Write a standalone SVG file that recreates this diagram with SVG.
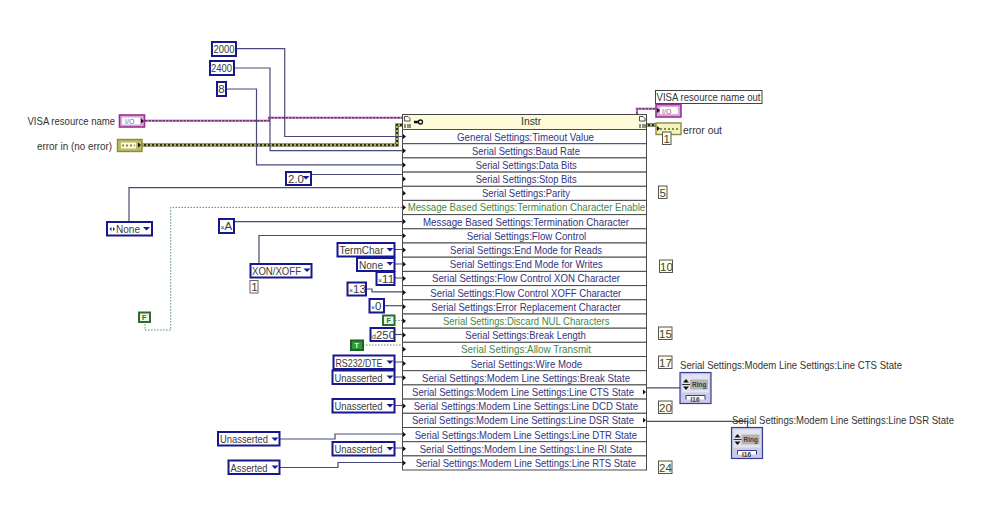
<svg xmlns="http://www.w3.org/2000/svg" width="999" height="528" viewBox="0 0 999 528">
<style>
text{font-family:"Liberation Sans","Noto Sans",sans-serif;font-size:11.5px;fill:#3c3c3c}
.lbl{font-size:10.400px;fill:#333}
.row{font-size:10.400px;fill:#34347f}
.grn{font-size:10.400px;fill:#3f8a45}
.idxt{font-size:11.500px;fill:#444}
.sm{font-size:7px}
.cell{fill:#fff;stroke:#4a4a4a;stroke-width:1}
.const{fill:#fff;stroke:#17178f;stroke-width:2}
.idx{fill:#ffffe6;stroke:#555;stroke-width:1}
.w{fill:none;stroke:#4a4a78;stroke-width:1.2}
.g{fill:none;stroke:#5d8f62;stroke-width:1;stroke-dasharray:1.5 1.5}
.pkb{fill:none;stroke:#c8a0c8;stroke-width:2.400}
.pk{fill:none;stroke:#7a2a7a;stroke-width:1.400;stroke-dasharray:2.500 1}
.ybg{fill:none;stroke:#2e2e18;stroke-width:3.200}
.yf{fill:none;stroke:#d8d860;stroke-width:1.600;stroke-dasharray:2 2}
.tri{fill:#111}
.arr{fill:#17178f}
.ring{fill:#c8cce8;stroke:#3a3a90;stroke-width:1.200}
</style>
<defs>
<path id="pin" class="tri" d="M0-2.500 3 0 0 2.500Z"/>
<path id="dd" class="arr" d="M-3.500-1.600H3.500L0 2Z"/>
<g id="ringicon">
<rect class="ring" x="0" y="0" width="31" height="31"/>
<rect x="2" y="2" width="27" height="18" fill="#e4e4ee"/>
<rect x="10" y="7" width="18" height="10" fill="#b4b4b4"/>
<path d="M3 10 6 6.500 9 10ZM3 14 6 17.500 9 14Z" fill="#111"/>
<path d="M2 12H10" stroke="#333" stroke-width="1"/>
<path d="M6 27V23H25V27" fill="#fff" stroke="#3a3a90" stroke-width="1"/>
<text x="10.500" y="29" style="font-size:6.500px;font-weight:700" fill="#333">I16</text>
<text x="12" y="14.500" style="font-size:6.500px;font-weight:700">Ring</text>
</g>
</defs>
<rect width="999" height="528" fill="#fff"/>

<g id="connectors">
<path class="pkb" d="M145 120.800H269V117.700H402"/>
<path class="pk" d="M145 120.800H269V117.700H402"/>
<path class="pkb" d="M637 114V108.700H655"/>
<path class="pk" d="M637 114V108.700H655"/>
<path class="ybg" d="M142 145H397V125H402"/>
<path class="yf" d="M142 145H397V125H402"/>
<path class="ybg" d="M646 125H656"/>
<path class="yf" d="M646 125H656"/>
<path class="w" d="M236 48.700H284.700V136.500H402"/>
<path class="w" d="M234 68H270V150.700H402"/>
<path class="w" d="M226 89H256.500V164.900H402"/>
<path class="w" d="M311 174.500H402"/>
<path class="w" d="M129 221V187.700H402"/>
<path class="g" d="M402 207.400H170.700V330H145V322"/>
<path class="w" d="M234 221.600H402"/>
<path class="w" d="M259 263V235.500H402"/>
<path class="w" d="M395 249.500H402M395 264H402M395 278H402"/>
<path class="w" d="M366 289H372V291.800H402"/>
<path class="w" d="M384 305.700H402"/>
<path class="g" d="M395 320.500H402"/>
<path class="w" d="M395 334.500H402"/>
<path class="g" d="M363 345H402"/>
<path class="w" d="M395 362H402M395 377H402M395 405.500H402M395 448H402"/>
<path class="w" d="M280 439H335V434H402"/>
<path class="w" d="M280 467.500H338V462.500H402"/>
<path class="w" d="M647 387.800H680"/>
<path class="w" d="M647 421.300H747.500V427"/>
</g>

<g id="node-instr">
<rect x="402.500" y="114.500" width="244" height="15" fill="#fdfbd8" stroke="#444"/>
<path d="M404.500 116.500H408L410 118.500V121H404.500Z" fill="#fff" stroke="#222" stroke-width="0.800"/>
<path d="M405 124V128M408 124V128M410 124V128" stroke="#222" stroke-width="1"/>
<path d="M414 122H419" stroke="#111" stroke-width="2.500"/><circle cx="420.500" cy="122" r="2" fill="#fff" stroke="#111" stroke-width="1.300"/>
<path d="M639.500 116.500H643L645 118.500V121H639.500Z" fill="#fff" stroke="#222" stroke-width="0.800"/>
<path d="M640 124V128M643 124V128M645 124V128" stroke="#222" stroke-width="1"/>
<text x="521" y="125" class="lbl">Instr</text>
<g id="rows">
<rect class="cell" x="402.500" y="129.500" width="244" height="14.200"/>
<rect class="cell" x="402.500" y="143.700" width="244" height="14.200"/>
<rect class="cell" x="402.500" y="157.900" width="244" height="14.200"/>
<rect class="cell" x="402.500" y="172.100" width="244" height="14.200"/>
<rect class="cell" x="402.500" y="186.300" width="244" height="14.100"/>
<rect class="cell" x="402.500" y="200.400" width="244" height="14.200"/>
<rect class="cell" x="402.500" y="214.600" width="244" height="14.200"/>
<rect class="cell" x="402.500" y="228.800" width="244" height="14.200"/>
<rect class="cell" x="402.500" y="243" width="244" height="14.200"/>
<rect class="cell" x="402.500" y="257.200" width="244" height="14.200"/>
<rect class="cell" x="402.500" y="271.400" width="244" height="14.200"/>
<rect class="cell" x="402.500" y="285.600" width="244" height="14.200"/>
<rect class="cell" x="402.500" y="299.800" width="244" height="14.200"/>
<rect class="cell" x="402.500" y="314" width="244" height="14.200"/>
<rect class="cell" x="402.500" y="328.200" width="244" height="14.100"/>
<rect class="cell" x="402.500" y="342.300" width="244" height="14.200"/>
<rect class="cell" x="402.500" y="356.500" width="244" height="14.200"/>
<rect class="cell" x="402.500" y="370.700" width="244" height="14.200"/>
<rect class="cell" x="402.500" y="384.900" width="244" height="14.200"/>
<rect class="cell" x="402.500" y="399.100" width="244" height="14.200"/>
<rect class="cell" x="402.500" y="413.300" width="244" height="14.200"/>
<rect class="cell" x="402.500" y="427.500" width="244" height="14.200"/>
<rect class="cell" x="402.500" y="441.700" width="244" height="14.200"/>
<rect class="cell" x="402.500" y="455.900" width="244" height="14.100"/>
</g>
<g id="row-labels">
<text class="row" x="457" y="140.500" textLength="137" lengthAdjust="spacingAndGlyphs">General Settings:Timeout Value</text>
<text class="row" x="472" y="154.700" textLength="108" lengthAdjust="spacingAndGlyphs">Serial Settings:Baud Rate</text>
<text class="row" x="475.700" y="168.900" textLength="101" lengthAdjust="spacingAndGlyphs">Serial Settings:Data Bits</text>
<text class="row" x="475.700" y="183.100" textLength="101" lengthAdjust="spacingAndGlyphs">Serial Settings:Stop Bits</text>
<text class="row" x="482" y="197.300" textLength="88" lengthAdjust="spacingAndGlyphs">Serial Settings:Parity</text>
<text class="grn" x="407.700" y="211.400" textLength="237.500" lengthAdjust="spacingAndGlyphs">Message Based Settings:Termination Character Enable</text>
<text class="row" x="423" y="225.600" textLength="206" lengthAdjust="spacingAndGlyphs">Message Based Settings:Termination Character</text>
<text class="row" x="466.700" y="239.800" textLength="119.500" lengthAdjust="spacingAndGlyphs">Serial Settings:Flow Control</text>
<text class="row" x="450" y="254" textLength="152" lengthAdjust="spacingAndGlyphs">Serial Settings:End Mode for Reads</text>
<text class="row" x="449.700" y="268.200" textLength="153" lengthAdjust="spacingAndGlyphs">Serial Settings:End Mode for Writes</text>
<text class="row" x="432" y="282.400" textLength="188" lengthAdjust="spacingAndGlyphs">Serial Settings:Flow Control XON Character</text>
<text class="row" x="430.300" y="296.600" textLength="191" lengthAdjust="spacingAndGlyphs">Serial Settings:Flow Control XOFF Character</text>
<text class="row" x="431.300" y="310.800" textLength="189.500" lengthAdjust="spacingAndGlyphs">Serial Settings:Error Replacement Character</text>
<text class="grn" x="443" y="325" textLength="166.500" lengthAdjust="spacingAndGlyphs">Serial Settings:Discard NUL Characters</text>
<text class="row" x="465.300" y="339.200" textLength="120.500" lengthAdjust="spacingAndGlyphs">Serial Settings:Break Length</text>
<text class="grn" x="461" y="353.300" textLength="130" lengthAdjust="spacingAndGlyphs">Serial Settings:Allow Transmit</text>
<text class="row" x="470.700" y="367.500" textLength="111.500" lengthAdjust="spacingAndGlyphs">Serial Settings:Wire Mode</text>
<text class="row" x="422" y="381.700" textLength="208" lengthAdjust="spacingAndGlyphs">Serial Settings:Modem Line Settings:Break State</text>
<text class="row" x="412" y="395.900" textLength="222" lengthAdjust="spacingAndGlyphs">Serial Settings:Modem Line Settings:Line CTS State</text>
<text class="row" x="413.700" y="410.100" textLength="224.300" lengthAdjust="spacingAndGlyphs">Serial Settings:Modem Line Settings:Line DCD State</text>
<text class="row" x="412" y="424.300" textLength="222" lengthAdjust="spacingAndGlyphs">Serial Settings:Modem Line Settings:Line DSR State</text>
<text class="row" x="414.700" y="438.500" textLength="222.300" lengthAdjust="spacingAndGlyphs">Serial Settings:Modem Line Settings:Line DTR State</text>
<text class="row" x="419.700" y="452.700" textLength="212.300" lengthAdjust="spacingAndGlyphs">Serial Settings:Modem Line Settings:Line RI State</text>
<text class="row" x="415.700" y="466.900" textLength="220.300" lengthAdjust="spacingAndGlyphs">Serial Settings:Modem Line Settings:Line RTS State</text>
</g>
<g id="pins">
<use href="#pin" x="403" y="136.500"/><use href="#pin" x="403" y="150.700"/><use href="#pin" x="403" y="164.900"/><use href="#pin" x="403" y="179"/><use href="#pin" x="403" y="193.200"/><use href="#pin" x="403" y="207.400"/><use href="#pin" x="403" y="221.600"/><use href="#pin" x="403" y="235.800"/><use href="#pin" x="403" y="250"/><use href="#pin" x="403" y="264.200"/><use href="#pin" x="403" y="278.400"/><use href="#pin" x="403" y="292.600"/><use href="#pin" x="403" y="306.800"/><use href="#pin" x="403" y="321"/><use href="#pin" x="403" y="335.100"/><use href="#pin" x="403" y="349.300"/><use href="#pin" x="403" y="363.500"/><use href="#pin" x="403" y="377.700"/><use href="#pin" x="403" y="406.100"/><use href="#pin" x="403" y="434.500"/><use href="#pin" x="403" y="448.700"/><use href="#pin" x="403" y="462.900"/>
<use href="#pin" x="643" y="391.900"/><use href="#pin" x="643" y="420.300"/>
</g>
</g>

<g id="visa-in"><text class="lbl" x="27.500" y="125" textLength="87.500" lengthAdjust="spacingAndGlyphs">VISA resource name</text><rect x="119.500" y="115" width="25" height="12" fill="#d9a8dc" stroke="#93358f" stroke-width="1.600"/><rect x="122" y="117.500" width="18" height="7" fill="#fff"/><text x="125" y="124" class="sm" style="fill:#8a5a8a">I/O</text><use href="#pin" x="141" y="121"/></g>
<g id="error-in"><rect x="117.500" y="139.500" width="24.500" height="12" fill="#bcbc68" stroke="#8a8a3a" stroke-width="1.400"/><rect x="121" y="142.500" width="15" height="6" fill="#fbfbe0"/><path d="M122 145.500H135" stroke="#8a8a3a" stroke-width="2" stroke-dasharray="2 2"/><use href="#pin" x="138" y="145"/><text class="lbl" x="37" y="150" textLength="75" lengthAdjust="spacingAndGlyphs">error in (no error)</text></g>

<g id="c2000"><rect class="const" x="212" y="42" width="24" height="14"/><text x="213.500" y="53.200" textLength="21" lengthAdjust="spacingAndGlyphs">2000</text></g>
<g id="c2400"><rect class="const" x="210" y="61" width="24" height="14"/><text x="211" y="72.200" textLength="21" lengthAdjust="spacingAndGlyphs">2400</text></g>
<g id="c8"><rect class="const" x="217" y="82" width="9" height="14"/><text x="218.300" y="93.200">8</text></g>
<g id="c20"><rect class="const" x="286" y="172" width="25" height="13"/><text x="288" y="183">2.0</text><use href="#dd" x="306" y="177.500"/></g>
<g id="cNone1"><rect class="const" x="107" y="222" width="45" height="13.500"/><path d="M109.500 229 111.500 227V231ZM115 229 113 227V231Z" fill="#17178f"/><text x="116" y="233" textLength="24" lengthAdjust="spacingAndGlyphs">None</text><use href="#dd" x="146.500" y="228.500"/></g>
<g id="cF1"><rect x="139" y="312.500" width="11" height="9.500" fill="#e8f4e4" stroke="#2f6b34" stroke-width="2"/><text x="142" y="320" class="sm" style="font-weight:700;fill:#2f6b34">F</text></g>
<g id="cA"><rect class="const" x="219" y="219" width="15" height="14"/><text x="220.500" y="230"><tspan class="sm">×</tspan>A</text></g>
<g id="cXon"><rect class="const" x="250.500" y="264" width="61" height="13.500"/><text x="252" y="275" textLength="49" lengthAdjust="spacingAndGlyphs">XON/XOFF</text><use href="#dd" x="307" y="270"/><rect x="250" y="280.500" width="8" height="12.500" fill="#fff" stroke="#666"/><text x="251.300" y="291" class="idxt">1</text></g>
<g id="cTerm"><rect class="const" x="337.500" y="243" width="57" height="13.500"/><text x="339.500" y="254" textLength="44" lengthAdjust="spacingAndGlyphs">TermChar</text><use href="#dd" x="390" y="249.500"/></g>
<g id="cNone2"><rect class="const" x="357" y="258" width="37.500" height="13"/><text x="359" y="268.500" textLength="24" lengthAdjust="spacingAndGlyphs">None</text><use href="#dd" x="390" y="263.500"/></g>
<g id="cX11"><rect class="const" x="376.500" y="272" width="18" height="13"/><text x="378" y="282.500"><tspan class="sm">×</tspan>11</text></g>
<g id="cX13"><rect class="const" x="347.500" y="282.500" width="18.500" height="13"/><text x="349" y="293"><tspan class="sm">×</tspan>13</text></g>
<g id="cX0"><rect class="const" x="369.500" y="299" width="14.500" height="13.500"/><text x="371" y="309.500"><tspan class="sm">×</tspan>0</text></g>
<g id="cF2"><rect x="383" y="315.500" width="11.500" height="9.500" fill="#e8f4e4" stroke="#2f6b34" stroke-width="2"/><text x="386.500" y="323" class="sm" style="font-weight:700;fill:#2f6b34">F</text></g>
<g id="c250"><rect class="const" x="370.500" y="328" width="24" height="13"/><text x="372" y="338.500"><tspan class="sm">d</tspan>250</text></g>
<g id="cT"><rect x="351" y="340.500" width="12" height="9.500" fill="#2f9a3a" stroke="#1f5f26" stroke-width="2"/><text x="354.500" y="348" class="sm" style="font-weight:700;fill:#e8f4e4">T</text></g>
<g id="cRS"><rect class="const" x="333.500" y="355.500" width="61" height="13.500"/><text x="335.500" y="366.500" textLength="47" lengthAdjust="spacingAndGlyphs">RS232/DTE</text><use href="#dd" x="390" y="362"/></g>
<g id="cU1"><rect class="const" x="332.500" y="370.500" width="62" height="13.500"/><text x="334.500" y="381.500" textLength="48" lengthAdjust="spacingAndGlyphs">Unasserted</text><use href="#dd" x="390" y="377"/></g>
<g id="cU2"><rect class="const" x="332.500" y="399" width="62" height="13.500"/><text x="334.500" y="410" textLength="48" lengthAdjust="spacingAndGlyphs">Unasserted</text><use href="#dd" x="390" y="405.500"/></g>
<g id="cU3"><rect class="const" x="218" y="432" width="61.500" height="13.500"/><text x="220" y="443" textLength="48" lengthAdjust="spacingAndGlyphs">Unasserted</text><use href="#dd" x="275" y="439"/></g>
<g id="cU4"><rect class="const" x="332.500" y="442" width="62" height="13.500"/><text x="334.500" y="453" textLength="48" lengthAdjust="spacingAndGlyphs">Unasserted</text><use href="#dd" x="390" y="448.500"/></g>
<g id="cAs"><rect class="const" x="228.500" y="460.500" width="51" height="13.500"/><text x="230.500" y="471.500" textLength="37" lengthAdjust="spacingAndGlyphs">Asserted</text><use href="#dd" x="275" y="467"/></g>

<g id="visa-out"><rect x="655.500" y="90.500" width="106.500" height="13" fill="#fff" stroke="#444"/><text x="656.500" y="100.700" class="lbl" textLength="104" lengthAdjust="spacingAndGlyphs">VISA resource name out</text><rect x="656" y="104.500" width="25" height="12.500" fill="#d9a8dc" stroke="#93358f" stroke-width="1.600"/><rect x="660" y="107" width="18" height="7" fill="#fff"/><text x="662" y="113.500" class="sm" style="fill:#8a5a8a">I/O</text><use href="#pin" x="657" y="110.500"/></g>
<g id="error-out"><rect x="656" y="123" width="25" height="11.500" fill="#f4f4c0" stroke="#8a8a3a" stroke-width="1.400"/><path d="M660 129H678" stroke="#8a8a3a" stroke-width="2" stroke-dasharray="2 2"/><use href="#pin" x="657" y="128.500"/><text class="lbl" x="683" y="134" textLength="39" lengthAdjust="spacingAndGlyphs">error out</text></g>

<g id="idx1"><rect class="idx" x="662.500" y="132" width="8.500" height="12.500"/><text x="663.600" y="142.500" class="idxt">1</text></g>
<g id="idx5"><rect class="idx" x="658.500" y="186" width="8.500" height="12.500"/><text x="659.600" y="196.500" class="idxt">5</text></g>
<g id="idx10"><rect class="idx" x="659.500" y="260" width="13" height="12.500"/><text x="660" y="270.500" class="idxt">10</text></g>
<g id="idx15"><rect class="idx" x="658.500" y="327" width="13.500" height="12.500"/><text x="659" y="337.500" class="idxt">15</text></g>
<g id="idx17"><rect class="idx" x="658.500" y="356" width="13.500" height="12.500"/><text x="659" y="366.500" class="idxt">17</text></g>
<g id="idx20"><rect class="idx" x="658.500" y="401" width="13.500" height="12.500"/><text x="659" y="411.500" class="idxt">20</text></g>
<g id="idx24"><rect class="idx" x="658.500" y="461" width="13.500" height="12.500"/><text x="659" y="471.500" class="idxt">24</text></g>

<g id="ind-cts"><text class="lbl" x="680" y="369" textLength="222" lengthAdjust="spacingAndGlyphs">Serial Settings:Modem Line Settings:Line CTS State</text><use href="#ringicon" x="680" y="372.500"/></g>
<g id="ind-dsr"><text class="lbl" x="732" y="424" textLength="222" lengthAdjust="spacingAndGlyphs">Serial Settings:Modem Line Settings:Line DSR State</text><use href="#ringicon" x="731.500" y="427.500"/></g>
</svg>
